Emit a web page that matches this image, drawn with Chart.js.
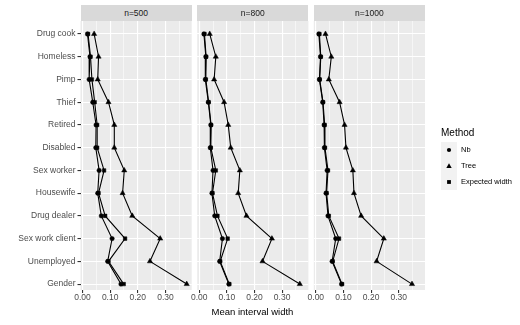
<!DOCTYPE html>
<html><head><meta charset="utf-8">
<script src="https://cdn.jsdelivr.net/npm/chart.js@4"></script>
<style>
body{margin:0;background:#fff;width:520px;height:325px;overflow:hidden;position:relative;font-family:"Liberation Sans",Arial,sans-serif;}
canvas{position:absolute;left:0;top:0;}
.strip{position:absolute;top:5px;height:16px;background:#D9D9D9;color:#1A1A1A;font-size:8.5px;line-height:16px;text-align:center;}
.xtitle{position:absolute;left:80px;width:345px;top:306px;text-align:center;font-size:9.5px;color:#000;}
.lgtitle{position:absolute;left:441px;top:127px;font-size:10px;color:#000;}
.key{position:absolute;left:441px;width:16px;height:16px;background:#F2F2F2;}
.lgtext{position:absolute;left:461px;font-size:7.5px;color:#000;line-height:16px;}
</style></head>
<body>
<canvas id="c0" width="520" height="325"></canvas>
<canvas id="c1" width="520" height="325"></canvas>
<canvas id="c2" width="520" height="325"></canvas>
<div id="strips"></div>
<div class="xtitle">Mean interval width</div>
<div class="lgtitle">Method</div>
<div id="legend"></div>
<script>
const categories = ["Drug cook","Homeless","Pimp","Thief","Retired","Disabled","Sex worker","Housewife","Drug dealer","Sex work client","Unemployed","Gender"];
const panelLabels = ["n=500","n=800","n=1000"];
const methods = ["Nb","Tree","Expected width"];
const xTicks = [0,0.05,0.10,0.15,0.20,0.25,0.30,0.35];

const nb500   = [0.018,0.027,0.024,0.037,0.049,0.048,0.060,0.055,0.068,0.107,0.091,0.139];
const tree500 = [0.042,0.058,0.055,0.094,0.115,0.115,0.151,0.145,0.180,0.281,0.244,0.377];
const exp500  = [0.020,0.029,0.034,0.044,0.053,0.053,0.078,0.058,0.082,0.154,0.094,0.149];

const nb800   = [0.017,0.024,0.022,0.033,0.042,0.040,0.050,0.046,0.056,0.084,0.074,0.107];
const tree800 = [0.038,0.060,0.054,0.090,0.105,0.114,0.147,0.141,0.171,0.263,0.229,0.364];
const exp800  = [0.019,0.025,0.024,0.034,0.043,0.042,0.060,0.048,0.066,0.103,0.076,0.109];

const nb1000   = [0.011,0.017,0.013,0.025,0.030,0.031,0.041,0.037,0.044,0.072,0.059,0.093];
const tree1000 = [0.035,0.056,0.047,0.086,0.104,0.109,0.134,0.138,0.164,0.246,0.220,0.348];
const exp1000  = [0.013,0.018,0.014,0.026,0.032,0.033,0.044,0.039,0.047,0.084,0.061,0.095];

const panelData = [[nb500,tree500,exp500],[nb800,tree800,exp800],[nb1000,tree1000,exp1000]];

const W = 520, H = 325;
const panelTop = 21, panelBottom = 290;
const panelLefts = [80.5, 197.2, 313.8];
const panelWidth = 111.2;
const xMin = -0.0073, xMax = 0.395;
const yMin = -0.57, yMax = 11.26;
const styles = [
  {pointStyle:'circle', radius:2.2},
  {pointStyle:'triangle', radius:3.0},
  {pointStyle:'rect', radius:2.5}
];
const axisFont = {family:'"Liberation Sans", Arial, sans-serif', size:8.5};
const isMajor = v => Math.abs(Math.round(v*10) - v*10) < 1e-6;

panelLabels.forEach((lab, p) => {
  const left = panelLefts[p];
  const right = left + panelWidth;
  const s = document.createElement('div');
  s.className = 'strip';
  s.style.left = left + 'px';
  s.style.width = panelWidth + 'px';
  s.textContent = lab;
  document.getElementById('strips').appendChild(s);

  const first = p === 0;
  const datasets = methods.map((m, k) => ({
    label: m,
    data: panelData[p][k].map((v, i) => ({x: v, y: i})),
    showLine: true,
    borderColor: '#000',
    borderWidth: 1.1,
    backgroundColor: '#000',
    pointBackgroundColor: '#000',
    pointBorderColor: '#000',
    pointBorderWidth: 0.5,
    pointStyle: styles[k].pointStyle,
    pointRadius: styles[k].radius,
    tension: 0
  }));

  new Chart(document.getElementById('c' + p), {
    type: 'scatter',
    data: {datasets},
    options: {
      responsive: false,
      animation: false,
      events: [],
      layout: {padding: {left: first ? 0 : left, right: W - right, top: panelTop, bottom: 16}},
      plugins: {
        legend: {display: false},
        tooltip: {enabled: false},
        title: {display: false}
      },
      scales: {
        x: {
          type: 'linear',
          min: xMin, max: xMax,
          afterBuildTicks: sc => { sc.ticks = xTicks.map(v => ({value: v})); },
          afterFit: sc => { sc.height = H - panelBottom - 16; },
          border: {display: false},
          grid: {
            color: '#FFFFFF',
            lineWidth: c => (c.tick && isMajor(c.tick.value)) ? 1.1 : 0.55,
            tickColor: c => (c.tick && isMajor(c.tick.value)) ? '#333333' : 'rgba(0,0,0,0)',
            tickLength: 3,
            drawTicks: true
          },
          ticks: {
            autoSkip: false, maxRotation: 0, minRotation: 0,
            padding: 0,
            color: '#4D4D4D',
            font: axisFont,
            callback: v => isMajor(v) ? v.toFixed(2) : ''
          }
        },
        y: {
          type: 'linear',
          reverse: true,
          min: yMin, max: yMax,
          afterBuildTicks: sc => { sc.ticks = categories.map((c, i) => ({value: i})); },
          afterFit: sc => { sc.width = first ? left : 0; },
          border: {display: false},
          grid: {
            color: '#FFFFFF',
            lineWidth: 1.1,
            tickColor: '#333333',
            tickLength: 3,
            drawTicks: first
          },
          ticks: {
            display: first,
            autoSkip: false,
            padding: 2,
            color: '#4D4D4D',
            font: axisFont,
            callback: v => categories[v]
          }
        }
      }
    },
    plugins: [{
      id: 'bgPanel',
      beforeDraw(chart) {
        const a = chart.chartArea;
        const ctx = chart.ctx;
        ctx.save();
        ctx.fillStyle = '#EBEBEB';
        ctx.fillRect(a.left, a.top, a.right - a.left, a.bottom - a.top);
        ctx.restore();
      }
    }]
  });
});

// legend
const lg = document.getElementById('legend');
const keyTops = [142, 158, 174];
methods.forEach((m, k) => {
  const key = document.createElement('div');
  key.className = 'key';
  key.style.top = keyTops[k] + 'px';
  lg.appendChild(key);
  const c = document.createElement('canvas');
  c.width = 16; c.height = 16;
  c.style.left = '441px'; c.style.top = keyTops[k] + 'px';
  const g = c.getContext('2d');
  g.fillStyle = '#000';
  if (k === 0) { g.beginPath(); g.arc(8, 8, 2.1, 0, Math.PI*2); g.fill(); }
  if (k === 1) { g.beginPath(); g.moveTo(8, 5.2); g.lineTo(10.7, 9.9); g.lineTo(5.3, 9.9); g.closePath(); g.fill(); }
  if (k === 2) { g.fillRect(6.1, 6.1, 3.8, 3.8); }
  lg.appendChild(c);
  const t = document.createElement('div');
  t.className = 'lgtext';
  t.style.top = keyTops[k] + 'px';
  t.textContent = m;
  lg.appendChild(t);
});
</script>
</body></html>
